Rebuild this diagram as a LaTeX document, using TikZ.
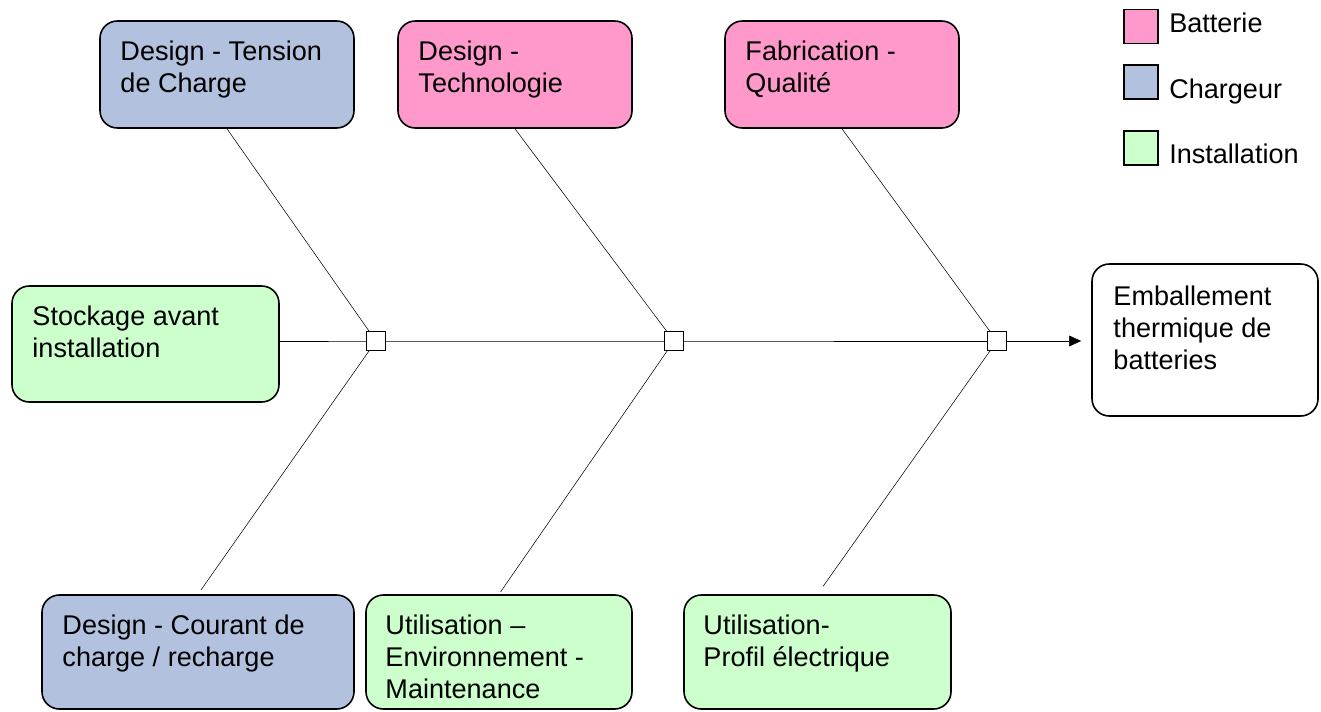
\documentclass[tikz,border=0pt]{standalone}
\usepackage{fontspec}
\setmainfont{Liberation Sans}
\usetikzlibrary{arrows.meta,backgrounds}
\definecolor{batterie}{HTML}{FF99CC}
\definecolor{chargeur}{HTML}{B2C2DE}
\definecolor{installation}{HTML}{CCFFCC}
\tikzset{
  boite/.style={draw, line width=1.2pt, rounded corners=13pt, inner sep=0pt},
  haut/.style={boite, minimum height=80.25pt},
  bas/.style={boite, minimum height=85.5pt},
  texte/.style={anchor=north west, inner sep=0pt, align=left,
    font=\fontsize{20.3}{24}\selectfont},
  jonction/.style={draw, fill=white, line width=1.1pt, minimum size=14.25pt, inner sep=0pt},
  arete/.style={line width=1.3pt},
  legende/.style={draw, line width=1.2pt, minimum size=25.5pt, inner sep=0pt},
}
\begin{document}
\begin{tikzpicture}[x=0.75pt, y=-0.75pt]
      \useasboundingbox (0,0) rectangle (1321,711);
      % causes
      \node[haut, fill=chargeur, minimum width=190.5pt] (tension) at (227,74.5) {};
      \node[haut, fill=batterie, minimum width=175.5pt] (techno) at (515,74.5) {};
      \node[haut, fill=batterie, minimum width=175.5pt] (qualite) at (842,74.5) {};
      \node[boite, fill=installation, minimum width=200.25pt, minimum height=87pt] (stockage) at (145.5,344) {};
      \node[bas, fill=chargeur, minimum width=234pt] (courant) at (198,652) {};
      \node[bas, fill=installation, minimum width=199.5pt] (environnement) at (499,652) {};
      \node[bas, fill=installation, minimum width=200.25pt] (profil) at (817.5,652) {};
      % effet
      \node[boite, fill=white, minimum width=169.5pt, minimum height=114pt] (effet) at (1205,340) {};
      % textes
      \node[texte] at ([shift={(21,20)}]tension.north west) {Design - Tension\\de Charge};
      \node[texte] at ([shift={(21,20)}]techno.north west) {Design -\\Technologie};
      \node[texte] at ([shift={(21,20)}]qualite.north west) {Fabrication -\\Qualité};
      \node[texte] at ([shift={(21,20)}]stockage.north west) {Stockage avant\\installation};
      \node[texte] at ([shift={(21,20)}]courant.north west) {Design - Courant de\\charge / recharge};
      \node[texte] at ([shift={(20,20)}]environnement.north west) {Utilisation –\\Environnement -\\Maintenance};
      \node[texte] at ([shift={(20,20)}]profil.north west) {Utilisation-\\Profil électrique};
      \node[texte] at ([shift={(22,22)}]effet.north west) {Emballement\\thermique de\\batteries};
      % jonctions
      \node[jonction] (j1) at (376,341) {};
      \node[jonction] (j2) at (674,341) {};
      \node[jonction] (j3) at (997,341) {};
      \begin{scope}[on background layer, arete]
        \draw (stockage.east |- j1) -- (j1.center) -- (j2.center) -- (j3.center);
        \draw[-{Triangle[length=9pt,width=8pt]}, shorten >=7.5pt] (j3.center) -- (effet.west |- j3);
        \draw (tension.south) -- (j1.center);
        \draw (techno.south) -- (j2.center);
        \draw (qualite.south) -- (j3.center);
        \draw[shorten <=4pt] (courant.north) -- (j1.center);
        \draw[shorten <=2pt] (environnement.north) -- (j2.center);
        \draw[shorten <=7pt] (profil.north) -- (j3.center);
      \end{scope}
      % legende
      \node[legende, fill=batterie] (lb) at (1141,26.5) {};
      \node[legende, fill=chargeur] (lc) at (1141,82) {};
      \node[legende, fill=installation] (li) at (1141,148) {};
      \node[anchor=base west, inner sep=0pt, font=\fontsize{20.3}{24}\selectfont] (tb) at (1169,32.3) {Batterie};
      \node[anchor=base west, inner sep=0pt, font=\fontsize{20.3}{24}\selectfont] (tc) at (1169,98.3) {Chargeur};
      \node[anchor=base west, inner sep=0pt, font=\fontsize{20.3}{24}\selectfont] (ti) at (1169,163.3) {Installation};
    \end{tikzpicture}
\end{document}
